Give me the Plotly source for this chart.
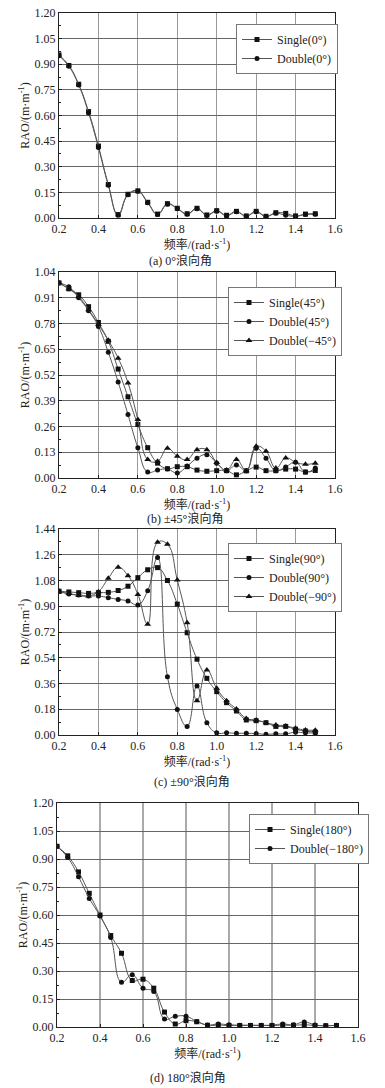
import plotly.graph_objects as go

# ---------------- data ----------------
FREQ = [0.20, 0.25, 0.30, 0.35, 0.40, 0.45, 0.50, 0.55, 0.60, 0.65, 0.70, 0.75, 0.80, 0.85,
        0.90, 0.95, 1.00, 1.05, 1.10, 1.15, 1.20, 1.25, 1.30, 1.35, 1.40, 1.45, 1.50]

single_0 = [0.955, 0.893, 0.783, 0.623, 0.421, 0.196, 0.020, 0.139, 0.159, 0.092, 0.023, 0.084, 0.057, 0.025,
            0.057, 0.018, 0.043, 0.016, 0.039, 0.012, 0.039, 0.010, 0.031, 0.027, 0.012, 0.023, 0.025]
double_0 = [0.950, 0.888, 0.778, 0.615, 0.412, 0.192, 0.016, 0.136, 0.156, 0.089, 0.020, 0.080, 0.054, 0.022,
            0.054, 0.015, 0.040, 0.013, 0.036, 0.010, 0.036, 0.008, 0.028, 0.016, 0.010, 0.020, 0.022]

single_45 = [0.985, 0.955, 0.925, 0.865, 0.785, 0.690, 0.550, 0.410, 0.270, 0.153, 0.075, 0.047, 0.057, 0.057,
             0.040, 0.034, 0.037, 0.037, 0.016, 0.036, 0.055, 0.037, 0.037, 0.045, 0.045, 0.030, 0.038]
double_45 = [0.985, 0.965, 0.910, 0.845, 0.765, 0.635, 0.485, 0.320, 0.153, 0.030, 0.040, 0.045, 0.025, 0.060,
             0.100, 0.118, 0.075, 0.037, 0.066, 0.037, 0.150, 0.100, 0.037, 0.056, 0.080, 0.030, 0.050]
double_m45 = [0.985, 0.955, 0.915, 0.850, 0.775, 0.695, 0.605, 0.480, 0.295, 0.093, 0.085, 0.150, 0.110, 0.093,
              0.143, 0.143, 0.078, 0.040, 0.093, 0.037, 0.160, 0.135, 0.050, 0.101, 0.080, 0.069, 0.075]

single_90 = [1.005, 1.000, 0.995, 0.990, 0.995, 0.997, 1.010, 1.040, 1.100, 1.155, 1.170, 1.080, 0.915, 0.715,
             0.530, 0.396, 0.303, 0.226, 0.168, 0.105, 0.100, 0.086, 0.060, 0.060, 0.040, 0.028, 0.020]
double_90 = [1.006, 0.985, 0.979, 0.972, 0.972, 0.960, 0.948, 0.937, 0.909, 1.009, 1.240, 0.408, 0.179, 0.060,
             0.343, 0.086, 0.015, 0.015, 0.012, 0.012, 0.010, 0.005, 0.008, 0.008, 0.020, 0.015, 0.015]
double_m90 = [1.000, 0.990, 0.975, 0.972, 1.002, 1.095, 1.172, 1.114, 0.983, 0.774, 1.347, 1.333, 1.083, 0.785,
              0.240, 0.454, 0.326, 0.240, 0.182, 0.116, 0.105, 0.086, 0.070, 0.063, 0.047, 0.035, 0.033]

single_180 = [0.968, 0.917, 0.831, 0.716, 0.600, 0.490, 0.395, 0.249, 0.256, 0.208, 0.080, 0.016, 0.034, 0.028,
              0.009, 0.010, 0.008, 0.008, 0.008, 0.008, 0.008, 0.010, 0.009, 0.012, 0.008, 0.007, 0.008]
double_180 = [0.968, 0.908, 0.805, 0.689, 0.595, 0.479, 0.240, 0.280, 0.208, 0.190, 0.043, 0.057, 0.058, 0.030,
              0.011, 0.016, 0.012, 0.010, 0.010, 0.009, 0.010, 0.016, 0.012, 0.027, 0.011, 0.007, 0.010]

Y_RANGES = [1.20, 1.04, 1.44, 1.20]
Y_DTICKS = [0.15, 0.13, 0.18, 0.15]
SUBTITLES = ["(a) 0°浪向角", "(b) ±45°浪向角", "(c) ±90°浪向角", "(d) 180°浪向角"]

PANELS = [
    [("Single(0°)", single_0, "square"), ("Double(0°)", double_0, "circle")],
    [("Single(45°)", single_45, "square"), ("Double(45°)", double_45, "circle"),
     ("Double(−45°)", double_m45, "triangle-up")],
    [("Single(90°)", single_90, "square"), ("Double(90°)", double_90, "circle"),
     ("Double(−90°)", double_m90, "triangle-up")],
    [("Single(180°)", single_180, "square"), ("Double(−180°)", double_180, "circle")],
]

# ---------------- layout geometry (page pixels) ----------------
W, H = 385, 1088
# (left, right, top, bottom) of each plot area, in page pixels
BOXES = [(59, 335, 13, 218), (59, 335, 272, 478), (59, 335, 529, 735), (57, 358, 803, 1027)]
LEGEND_POS = [(236, 24), (228, 287), (228, 543), (249, 814)]
SUB_POS = [(180, 260), (185, 518), (192, 781), (188, 1077)]


def px(xp):
    return xp / W


def py(yp):
    return 1 - yp / H


FONT = "Liberation Serif, Noto Sans CJK SC, serif"
FS = 12

fig = go.Figure()
layout = dict(
    width=W, height=H,
    margin=dict(l=0, r=0, t=0, b=0),
    paper_bgcolor="white", plot_bgcolor="white",
    font=dict(family=FONT, size=FS, color="#222"),
    annotations=[],
)

for i, series in enumerate(PANELS):
    n = i + 1
    xa = "xaxis" if n == 1 else f"xaxis{n}"
    ya = "yaxis" if n == 1 else f"yaxis{n}"
    xr = "x" if n == 1 else f"x{n}"
    yr = "y" if n == 1 else f"y{n}"
    lg = "legend" if n == 1 else f"legend{n}"
    for name, vals, sym in series:
        fig.add_trace(go.Scatter(
            x=FREQ, y=vals, name=name, mode="lines+markers",
            xaxis=xr, yaxis=yr, legend=lg,
            line=dict(color="#555", width=1, shape="spline", smoothing=1.3),
            marker=dict(symbol=sym, size=5 if sym != "triangle-up" else 6, color="#111"),
        ))
    l, r, t, b = BOXES[i]
    vgrid = "#999" if n != 4 else "#aaa"
    layout[xa] = dict(
        domain=[px(l), px(r)], anchor=yr, range=[0.2, 1.6], dtick=0.2, tick0=0.2,
        tickformat=".1f", showline=True, linecolor="#222", linewidth=1, mirror=True,
        showgrid=True, gridcolor=vgrid, gridwidth=1.2 if n != 4 else 2,
        ticks="inside", ticklen=3, tickcolor="#222", zeroline=False, automargin=False,
        tickfont=dict(size=FS, family=FONT), ticklabeloverflow="allow",
        title=dict(text="频率/(rad·s<sup>-1</sup>)", font=dict(size=FS, family=FONT), standoff=5),
    )
    layout[ya] = dict(
        domain=[py(b), py(t)], anchor=xr, range=[0, Y_RANGES[i]], dtick=Y_DTICKS[i], tick0=0,
        tickformat=".2f", showline=True, linecolor="#222", linewidth=1, mirror=True,
        showgrid=True, gridcolor="#666", gridwidth=1,
        ticks="inside", ticklen=3, tickcolor="#222", zeroline=False, automargin=False,
        minor=dict(ticks="inside", ticklen=2, dtick=Y_DTICKS[i] / 2, tickcolor="#222", showgrid=False),
        tickfont=dict(size=FS, family=FONT), ticklabeloverflow="allow",
        title=dict(text="RAO/(m·m<sup>-1</sup>)", font=dict(size=FS, family=FONT), standoff=2),
    )
    lx, ly = LEGEND_POS[i]
    layout[lg] = dict(
        x=px(lx), y=py(ly), xanchor="left", yanchor="top",
        bgcolor="white", bordercolor="#777", borderwidth=1,
        font=dict(size=FS, family=FONT, color="#222"),
        tracegroupgap=0, itemwidth=30,
    )
    sx, sy = SUB_POS[i]
    layout["annotations"].append(dict(
        text=SUBTITLES[i], x=px(sx), y=py(sy), xref="paper", yref="paper",
        xanchor="center", yanchor="middle", showarrow=False,
        font=dict(size=FS, family=FONT, color="#222"),
    ))

fig.update_layout(**layout)
# remove the default 8px page margin so the figure fills the window exactly
fig.write_html("out.html", config={"displayModeBar": False},
               post_script="document.body.style.margin='0';")
